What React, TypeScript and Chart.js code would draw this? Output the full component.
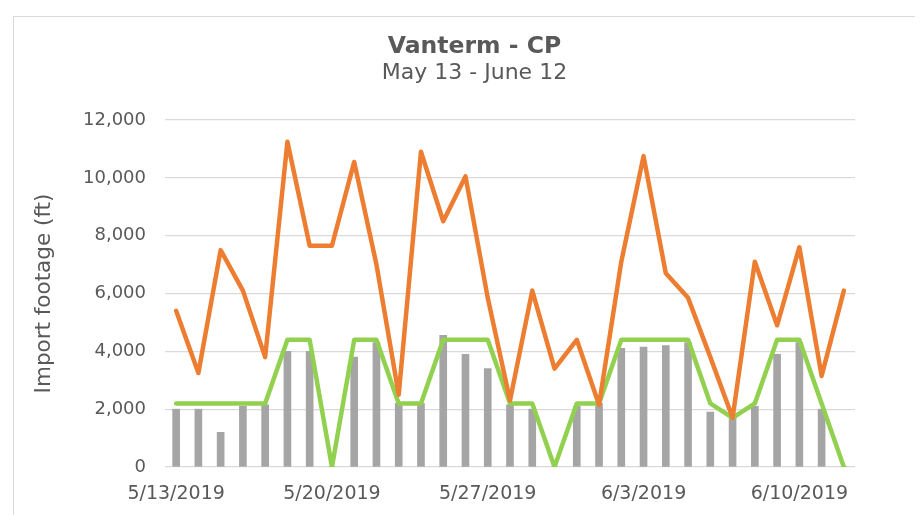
import React, { useEffect, useRef } from "react";
import { Chart, registerables } from "chart.js";

Chart.register(...registerables);

const dates = [
  "5/13/2019", "5/14/2019", "5/15/2019", "5/16/2019", "5/17/2019", "5/18/2019", "5/19/2019",
  "5/20/2019", "5/21/2019", "5/22/2019", "5/23/2019", "5/24/2019", "5/25/2019", "5/26/2019",
  "5/27/2019", "5/28/2019", "5/29/2019", "5/30/2019", "5/31/2019", "6/1/2019", "6/2/2019",
  "6/3/2019", "6/4/2019", "6/5/2019", "6/6/2019", "6/7/2019", "6/8/2019", "6/9/2019",
  "6/10/2019", "6/11/2019", "6/12/2019",
];

const orangeSeries = [
  5400, 3250, 7500, 6100, 3800, 11250, 7650, 7650, 10550, 7000, 2500, 10900, 8500, 10050,
  5850, 2300, 6100, 3400, 4400, 2150, 7100, 10750, 6700, 5850, 3800, 1700, 7100, 4900, 7600,
  3150, 6100,
];

const greenSeries = [
  2200, 2200, 2200, 2200, 2200, 4400, 4400, 0, 4400, 4400, 2200, 2200, 4400, 4400, 4400,
  2200, 2200, 0, 2200, 2200, 4400, 4400, 4400, 4400, 2200, 1700, 2200, 4400, 4400, 2200, 0,
];

const greySeries = [
  2000, 2000, 1200, 2100, 2150, 4000, 4000, 0, 3800, 4300, 2200, 2200, 4550, 3900, 3400,
  2150, 2000, 0, 2100, 2200, 4100, 4150, 4200, 4300, 1900, 1700, 2100, 3900, 4300, 2000, 0,
];

const yTicks = [0, 2000, 4000, 6000, 8000, 10000, 12000];

const titleText = "Vanterm - CP";
const subtitleText = "May 13 - June 12";
const yTitle = "Import footage (ft)";

const FONT = "'DejaVu Sans', Verdana, sans-serif";
const TEXT = "#595959";

export default function App() {
  const ref = useRef<HTMLCanvasElement | null>(null);

  useEffect(() => {
    if (!ref.current) return;
    const chart = new Chart(ref.current, {
      type: "bar",
      data: {
        labels: dates,
        datasets: [
          {
            type: "line",
            label: "Orange",
            data: orangeSeries,
            borderColor: "#ED7D31",
            backgroundColor: "#ED7D31",
            borderWidth: 4.5,
            pointRadius: 0,
            tension: 0,
            borderJoinStyle: "round",
            borderCapStyle: "round",
            order: 1,
          } as any,
          {
            type: "line",
            label: "Green",
            data: greenSeries,
            borderColor: "#92D050",
            backgroundColor: "#92D050",
            borderWidth: 4.5,
            pointRadius: 0,
            tension: 0,
            borderJoinStyle: "round",
            borderCapStyle: "round",
            order: 2,
          } as any,
          {
            type: "bar",
            label: "Grey",
            data: greySeries,
            backgroundColor: "#A5A5A5",
            barThickness: 7,
            order: 3,
          } as any,
        ],
      },
      options: {
        responsive: false,
        animation: false,
        devicePixelRatio: 1,
        layout: { padding: { top: 17, left: 18, right: 0, bottom: 0 } },
        plugins: {
          legend: { display: false },
          tooltip: { enabled: false },
          title: {
            display: true,
            text: titleText,
            color: TEXT,
            font: { family: FONT, size: 23.5, weight: "bold", lineHeight: 1.1 },
            padding: { top: 0, bottom: 0 },
          },
          subtitle: {
            display: true,
            text: subtitleText,
            color: TEXT,
            font: { family: FONT, size: 22, lineHeight: 1.2 },
            padding: { top: 0, bottom: 33.75 },
          },
        },
        scales: {
          x: {
            grid: { display: false, drawTicks: false },
            border: { display: false },
            ticks: {
              autoSkip: false,
              maxRotation: 0,
              minRotation: 0,
              padding: 16,
              color: TEXT,
              font: { family: FONT, size: 19 },
              callback: (_v: any, i: number) => (i % 7 === 0 ? dates[i] : ""),
            },
            afterFit: (s: any) => {
              s.height = 48;
            },
          },
          y: {
            min: 0,
            max: 12000,
            afterBuildTicks: (s: any) => {
              s.ticks = yTicks.map((v) => ({ value: v }));
            },
            grid: { color: "#D9D9D9", lineWidth: 1.3, drawTicks: false },
            border: { display: false },
            ticks: {
              padding: 19,
              color: TEXT,
              font: { family: FONT, size: 18 },
              callback: (v: any) => Number(v).toLocaleString("en-US"),
            },
            title: {
              display: true,
              text: yTitle,
              color: TEXT,
              font: { family: FONT, size: 21.5, lineHeight: 1.2 },
              padding: { top: 0, bottom: 0 },
            },
            afterFit: (s: any) => {
              s.width = 133;
            },
          },
          yRight: {
            position: "right",
            display: true,
            grid: { display: false, drawTicks: false },
            border: { display: false },
            ticks: { display: false },
            afterFit: (s: any) => {
              s.width = 62;
            },
          },
        },
      } as any,
    });
    return () => chart.destroy();
  }, []);

  return (
    <div style={{ paddingTop: 8, paddingLeft: 5 }}>
      <div
        style={{
          width: 903,
          height: 498,
          border: "1px solid #D9D9D9",
          background: "#FFFFFF",
        }}
      >
        <canvas ref={ref} width={903} height={498} style={{ display: "block" }} />
      </div>
    </div>
  );
}
